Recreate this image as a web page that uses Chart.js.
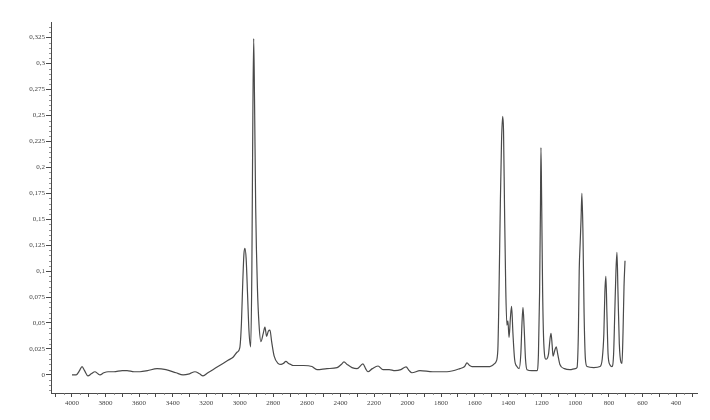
<!DOCTYPE html>
<html>
<head>
<meta charset="utf-8">
<script src="https://cdn.jsdelivr.net/npm/chart.js@4.4.1/dist/chart.umd.min.js"></script>
<style>
  html, body { margin: 0; padding: 0; background: #fff; }
  #wrap { width: 710px; height: 420px; position: relative; }
</style>
</head>
<body>
<div id="wrap"><canvas id="spectrum"></canvas></div>
<script>
// wavenumber (cm-1) and absorbance
const wavenumbers = [
  4000, 3975, 3955, 3940, 3925, 3905, 3885, 3863, 3845, 3833, 3810, 3785, 3750, 3700, 3672, 3630,
  3595, 3550, 3493, 3440, 3380, 3338, 3300, 3267, 3240, 3219, 3190, 3160, 3130, 3100, 3070, 3040,
  3015, 3000, 2990, 2982, 2975, 2969, 2962, 2953, 2945, 2935, 2928, 2922, 2917, 2912, 2905, 2895,
  2885, 2874, 2860, 2850, 2840, 2830, 2820, 2810, 2795, 2772, 2754, 2740, 2725, 2710, 2695, 2683,
  2620, 2570, 2540, 2480, 2420, 2395, 2379, 2360, 2331, 2301, 2266, 2250, 2236, 2210, 2176, 2146,
  2110, 2075, 2040, 2009, 1990, 1974, 1926, 1850, 1765, 1688, 1660, 1646, 1630, 1616, 1560, 1509,
  1480, 1473, 1462, 1455, 1447, 1440, 1433, 1428, 1422, 1415, 1408, 1402, 1395, 1387, 1380, 1372,
  1362, 1348, 1335, 1325, 1318, 1312, 1305, 1297, 1288, 1260, 1229, 1220, 1213, 1208, 1205, 1201,
  1195, 1188, 1175, 1160, 1150, 1145, 1138, 1133, 1122, 1114, 1105, 1092, 1065, 1032, 1000, 990,
  982, 977, 971, 966, 961, 955, 948, 940, 930, 890, 853, 840, 830, 824, 818, 812,
  805, 795, 782, 772, 765, 758, 752, 746, 738, 728, 722, 716, 710, 704
];
const absorbance = [
  0.000, 0.000, 0.004, 0.008, 0.004, -0.001, 0.001, 0.003, 0.001, 0.000, 0.002, 0.003, 0.003, 0.004, 0.004, 0.003,
  0.003, 0.004, 0.006, 0.005, 0.002, 0.000, 0.001, 0.003, 0.001, -0.001, 0.002, 0.005, 0.008, 0.011, 0.014, 0.017,
  0.022, 0.026, 0.050, 0.090, 0.117, 0.122, 0.112, 0.075, 0.042, 0.027, 0.100, 0.250, 0.324, 0.265, 0.160, 0.085,
  0.048, 0.032, 0.040, 0.046, 0.037, 0.042, 0.043, 0.032, 0.018, 0.011, 0.010, 0.011, 0.013, 0.011, 0.010, 0.009,
  0.009, 0.008, 0.005, 0.006, 0.007, 0.010, 0.0125, 0.010, 0.007, 0.006, 0.0105, 0.006, 0.003, 0.006, 0.0085, 0.005,
  0.005, 0.004, 0.005, 0.0077, 0.004, 0.002, 0.004, 0.003, 0.003, 0.006, 0.008, 0.0115, 0.009, 0.008, 0.008, 0.008,
  0.011, 0.0125, 0.024, 0.080, 0.165, 0.225, 0.249, 0.235, 0.160, 0.085, 0.048, 0.052, 0.036, 0.055, 0.066, 0.040,
  0.015, 0.008, 0.006, 0.020, 0.050, 0.065, 0.045, 0.015, 0.005, 0.004, 0.004, 0.020, 0.080, 0.160, 0.219, 0.170,
  0.080, 0.030, 0.015, 0.020, 0.036, 0.040, 0.028, 0.018, 0.024, 0.027, 0.020, 0.010, 0.006, 0.005, 0.006, 0.007,
  0.040, 0.100, 0.128, 0.150, 0.175, 0.140, 0.060, 0.015, 0.008, 0.007, 0.008, 0.015, 0.040, 0.080, 0.095, 0.060,
  0.020, 0.010, 0.008, 0.020, 0.060, 0.100, 0.118, 0.080, 0.030, 0.012, 0.011, 0.040, 0.085, 0.110
];

// axis ticks
const xTicks = [4100, 4000, 3900, 3800, 3700, 3600, 3500, 3400, 3300, 3200, 3100, 3000, 2900, 2800, 2700, 2600,
  2500, 2400, 2300, 2200, 2100, 2000, 1900, 1800, 1700, 1600, 1500, 1400, 1300, 1200, 1100, 1000,
  900, 800, 700, 600, 500, 400, 300];
const xLabelled = [4000, 3800, 3600, 3400, 3200, 3000, 2800, 2600, 2400, 2200, 2000, 1800, 1600, 1400, 1200, 1000, 800, 600, 400];
const yTicks = [0, 0.025, 0.05, 0.075, 0.1, 0.125, 0.15, 0.175, 0.2, 0.225, 0.25, 0.275, 0.3, 0.325];
const yLabels = ['0', '0,025', '0,05', '0,075', '0,1', '0,125', '0,15', '0,175', '0,2', '0,225', '0,25', '0,275', '0,3', '0,325'];

const inkColor = '#4a4a4a';
const tickFont = { family: "'Liberation Serif', 'DejaVu Serif', serif", size: 7 };

const minorTicks = {
  id: 'minorTicks',
  afterDraw(chart) {
    const ctx = chart.ctx;
    const x = chart.scales.x;
    const y = chart.scales.y;
    ctx.save();
    ctx.strokeStyle = '#777';
    ctx.lineWidth = 0.8;
    ctx.beginPath();
    for (let v = 300; v <= 4100; v += 50) {
      if (v % 100 === 0) continue;
      const px = Math.round(x.getPixelForValue(v)) + 0.5;
      ctx.moveTo(px, x.top);
      ctx.lineTo(px, x.top + 2);
    }
    for (let i = -3; i <= 67; i++) {
      if (i % 5 === 0) continue;
      const py = Math.round(y.getPixelForValue(i * 0.005)) + 0.5;
      ctx.moveTo(y.right - 2, py);
      ctx.lineTo(y.right, py);
    }
    ctx.stroke();
    ctx.restore();
  }
};

new Chart(document.getElementById('spectrum'), {
  type: 'line',
  data: {
    datasets: [{
      data: wavenumbers.map((w, i) => ({ x: w, y: absorbance[i] })),
      borderColor: inkColor,
      borderWidth: 1.2,
      pointRadius: 0,
      cubicInterpolationMode: 'monotone',
      fill: false
    }]
  },
  options: {
    responsive: true,
    maintainAspectRatio: false,
    animation: false,
    layout: { padding: { top: 22, right: 13, left: 0, bottom: 0 } },
    plugins: {
      legend: { display: false },
      tooltip: { enabled: false }
    },
    scales: {
      x: {
        type: 'linear',
        reverse: true,
        min: 275,
        max: 4125,
        afterBuildTicks: (scale) => { scale.ticks = xTicks.map(v => ({ value: v })); },
        afterFit: (scale) => { scale.height = 27; },
        border: { color: inkColor, width: 1 },
        grid: { drawOnChartArea: false, tickLength: 4, color: inkColor },
        ticks: {
          autoSkip: false,
          maxRotation: 0,
          padding: 2,
          color: '#444',
          font: tickFont,
          callback: (v) => xLabelled.includes(v) ? String(v) : ''
        }
      },
      y: {
        min: -0.0175,
        max: 0.34,
        afterBuildTicks: (scale) => { scale.ticks = yTicks.map(v => ({ value: v })); },
        afterFit: (scale) => { scale.width = 51; },
        border: { color: inkColor, width: 1 },
        grid: { drawOnChartArea: false, tickLength: 5, color: inkColor },
        ticks: {
          autoSkip: false,
          padding: 1,
          color: '#444',
          font: tickFont,
          callback: (v) => {
            const i = yTicks.findIndex(t => Math.abs(t - v) < 1e-9);
            return i >= 0 ? yLabels[i] : '';
          }
        }
      }
    }
  },
  plugins: [minorTicks]
});
</script>
</body>
</html>
